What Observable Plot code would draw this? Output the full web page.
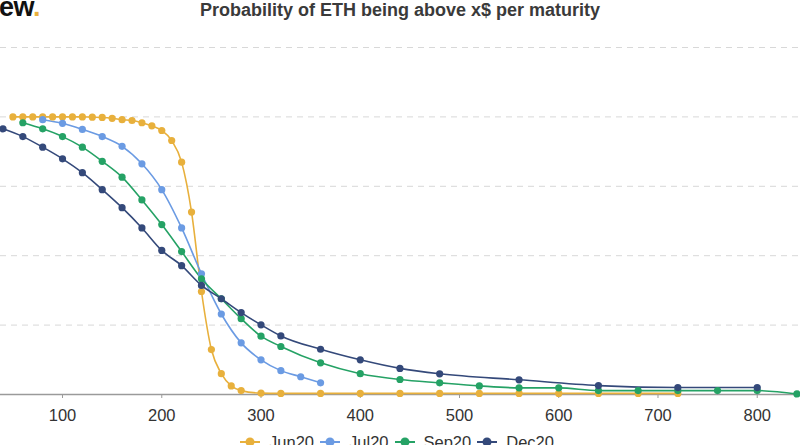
<!DOCTYPE html>
<html>
<head>
<meta charset="utf-8">
<script src="https://cdn.jsdelivr.net/npm/d3@7"></script>
<script src="https://cdn.jsdelivr.net/npm/@observablehq/plot@0.6"></script>
<style>
  html, body { margin: 0; padding: 0; background: #fff; overflow: hidden; }
  #wrap { position: relative; width: 800px; height: 445px; overflow: hidden; font-family: "Liberation Sans", Arial, sans-serif; }
  #chart { position: absolute; left: 0; top: 0; }
  #logo { position: absolute; left: -1px; top: -5px; font-size: 27px; line-height: 24px; font-weight: bold; color: #111; letter-spacing: -0.5px; }
  #logo span { color: #e8b03c; }
  #title { position: absolute; left: 0; width: 800px; top: 0px; text-align: center; font-size: 18px; line-height: 20px; font-weight: bold; color: #3a3a3a; }
  #legend { position: absolute; left: 0; width: 800px; top: 432px; display: flex; justify-content: center; font-size: 16.5px; line-height: 20px; color: #333; }
  .item { display: flex; align-items: center; margin-right: 6px; }
  .item svg { margin-right: 9px; }
</style>
</head>
<body>
<div id="wrap">
  <div id="chart"></div>
  <div id="logo">ew<span>.</span></div>
  <div id="title">Probability of ETH being above x$ per maturity</div>
  <div id="legend"></div>
</div>
<script>
const seriesNames = ["Jun20", "Jul20", "Sep20", "Dec20"];
const seriesColors = ["#e8b03c", "#6b9be3", "#25a265", "#34497a"];

const jun20Strikes = [50,60,70,80,90,100,110,120,130,140,150,160,170,180,190,200,210,220,230,240,250,260,270,280,300,320,360,400,440,480,520,560,600,640,680,720];
const jun20Prob = [1.0,1.0,1.0,1.0,1.0,1.0,1.0,1.0,0.999,0.998,0.995,0.990,0.987,0.979,0.968,0.951,0.915,0.837,0.657,0.371,0.162,0.075,0.031,0.014,0.005,0.004,0.004,0.004,0.004,0.004,0.004,0.004,0.004,0.004,0.004,0.004];

const jul20Strikes = [80,100,120,140,160,180,200,220,240,260,280,300,320,340,360];
const jul20Prob = [0.990,0.977,0.955,0.929,0.894,0.831,0.738,0.600,0.435,0.290,0.186,0.125,0.086,0.064,0.042];

const sep20Strikes = [60,80,100,120,140,160,180,200,220,240,260,280,300,320,360,400,440,480,520,560,600,640,680,720,760,800,840];
const sep20Prob = [0.979,0.957,0.929,0.891,0.840,0.783,0.701,0.612,0.515,0.417,0.345,0.273,0.210,0.173,0.114,0.075,0.054,0.042,0.031,0.024,0.024,0.014,0.014,0.014,0.014,0.014,0.002];

const dec20Strikes = [40,60,80,100,120,140,160,180,200,220,240,260,280,300,320,360,400,440,480,560,640,720,800];
const dec20Prob = [0.957,0.929,0.891,0.849,0.799,0.738,0.673,0.600,0.519,0.464,0.393,0.345,0.295,0.251,0.211,0.163,0.125,0.094,0.0745,0.053,0.032,0.025,0.025];

const xTicks = [100,200,300,400,500,600,700,800];
const gridValues = [0.25,0.5,0.75,1.0,1.25];

const seriesData = [
  [seriesNames[0], jun20Strikes, jun20Prob],
  [seriesNames[1], jul20Strikes, jul20Prob],
  [seriesNames[2], sep20Strikes, sep20Prob],
  [seriesNames[3], dec20Strikes, dec20Prob]
];
const rows = seriesData.flatMap(([name, xs, ps]) => xs.map((s, i) => ({series: name, strike: s, p: ps[i]})));

const chart = Plot.plot({
  width: 800,
  height: 445,
  marginLeft: 0,
  marginRight: 0,
  marginTop: 47,
  marginBottom: 51,
  style: {fontFamily: "'Liberation Sans', Arial, sans-serif", fontSize: "16px", background: "transparent", overflow: "visible"},
  x: {domain: [37.5, 843.6]},
  y: {domain: [0, 1.25], axis: null},
  color: {domain: seriesNames, range: seriesColors},
  marks: [
    Plot.ruleY(gridValues, {stroke: "#d8d8d8", strokeDasharray: "6,5", strokeWidth: 1}),
    Plot.ruleY([0], {stroke: "#9a9a9a", strokeWidth: 1.6}),
    Plot.axisX({ticks: xTicks, tickSize: 4, tickPadding: 11, stroke: "#9a9a9a", fill: "#333", fontSize: 16.5, label: null, tickFormat: d => String(d)}),
    Plot.line(rows, {x: "strike", y: "p", z: "series", stroke: "series", curve: "monotone-x", strokeWidth: 1.6}),
    Plot.dot(rows, {x: "strike", y: "p", fill: "series", r: 3.6})
  ]
});
document.getElementById("chart").appendChild(chart);

const legend = document.getElementById("legend");
seriesNames.forEach((name, i) => {
  const item = document.createElement("div");
  item.className = "item";
  const c = seriesColors[i];
  item.innerHTML = `<svg width="20" height="12"><line x1="0" y1="6" x2="20" y2="6" stroke="${c}" stroke-width="2"/><circle cx="10" cy="6" r="4.5" fill="${c}"/></svg><span>${name}</span>`;
  legend.appendChild(item);
});
</script>
</body>
</html>
